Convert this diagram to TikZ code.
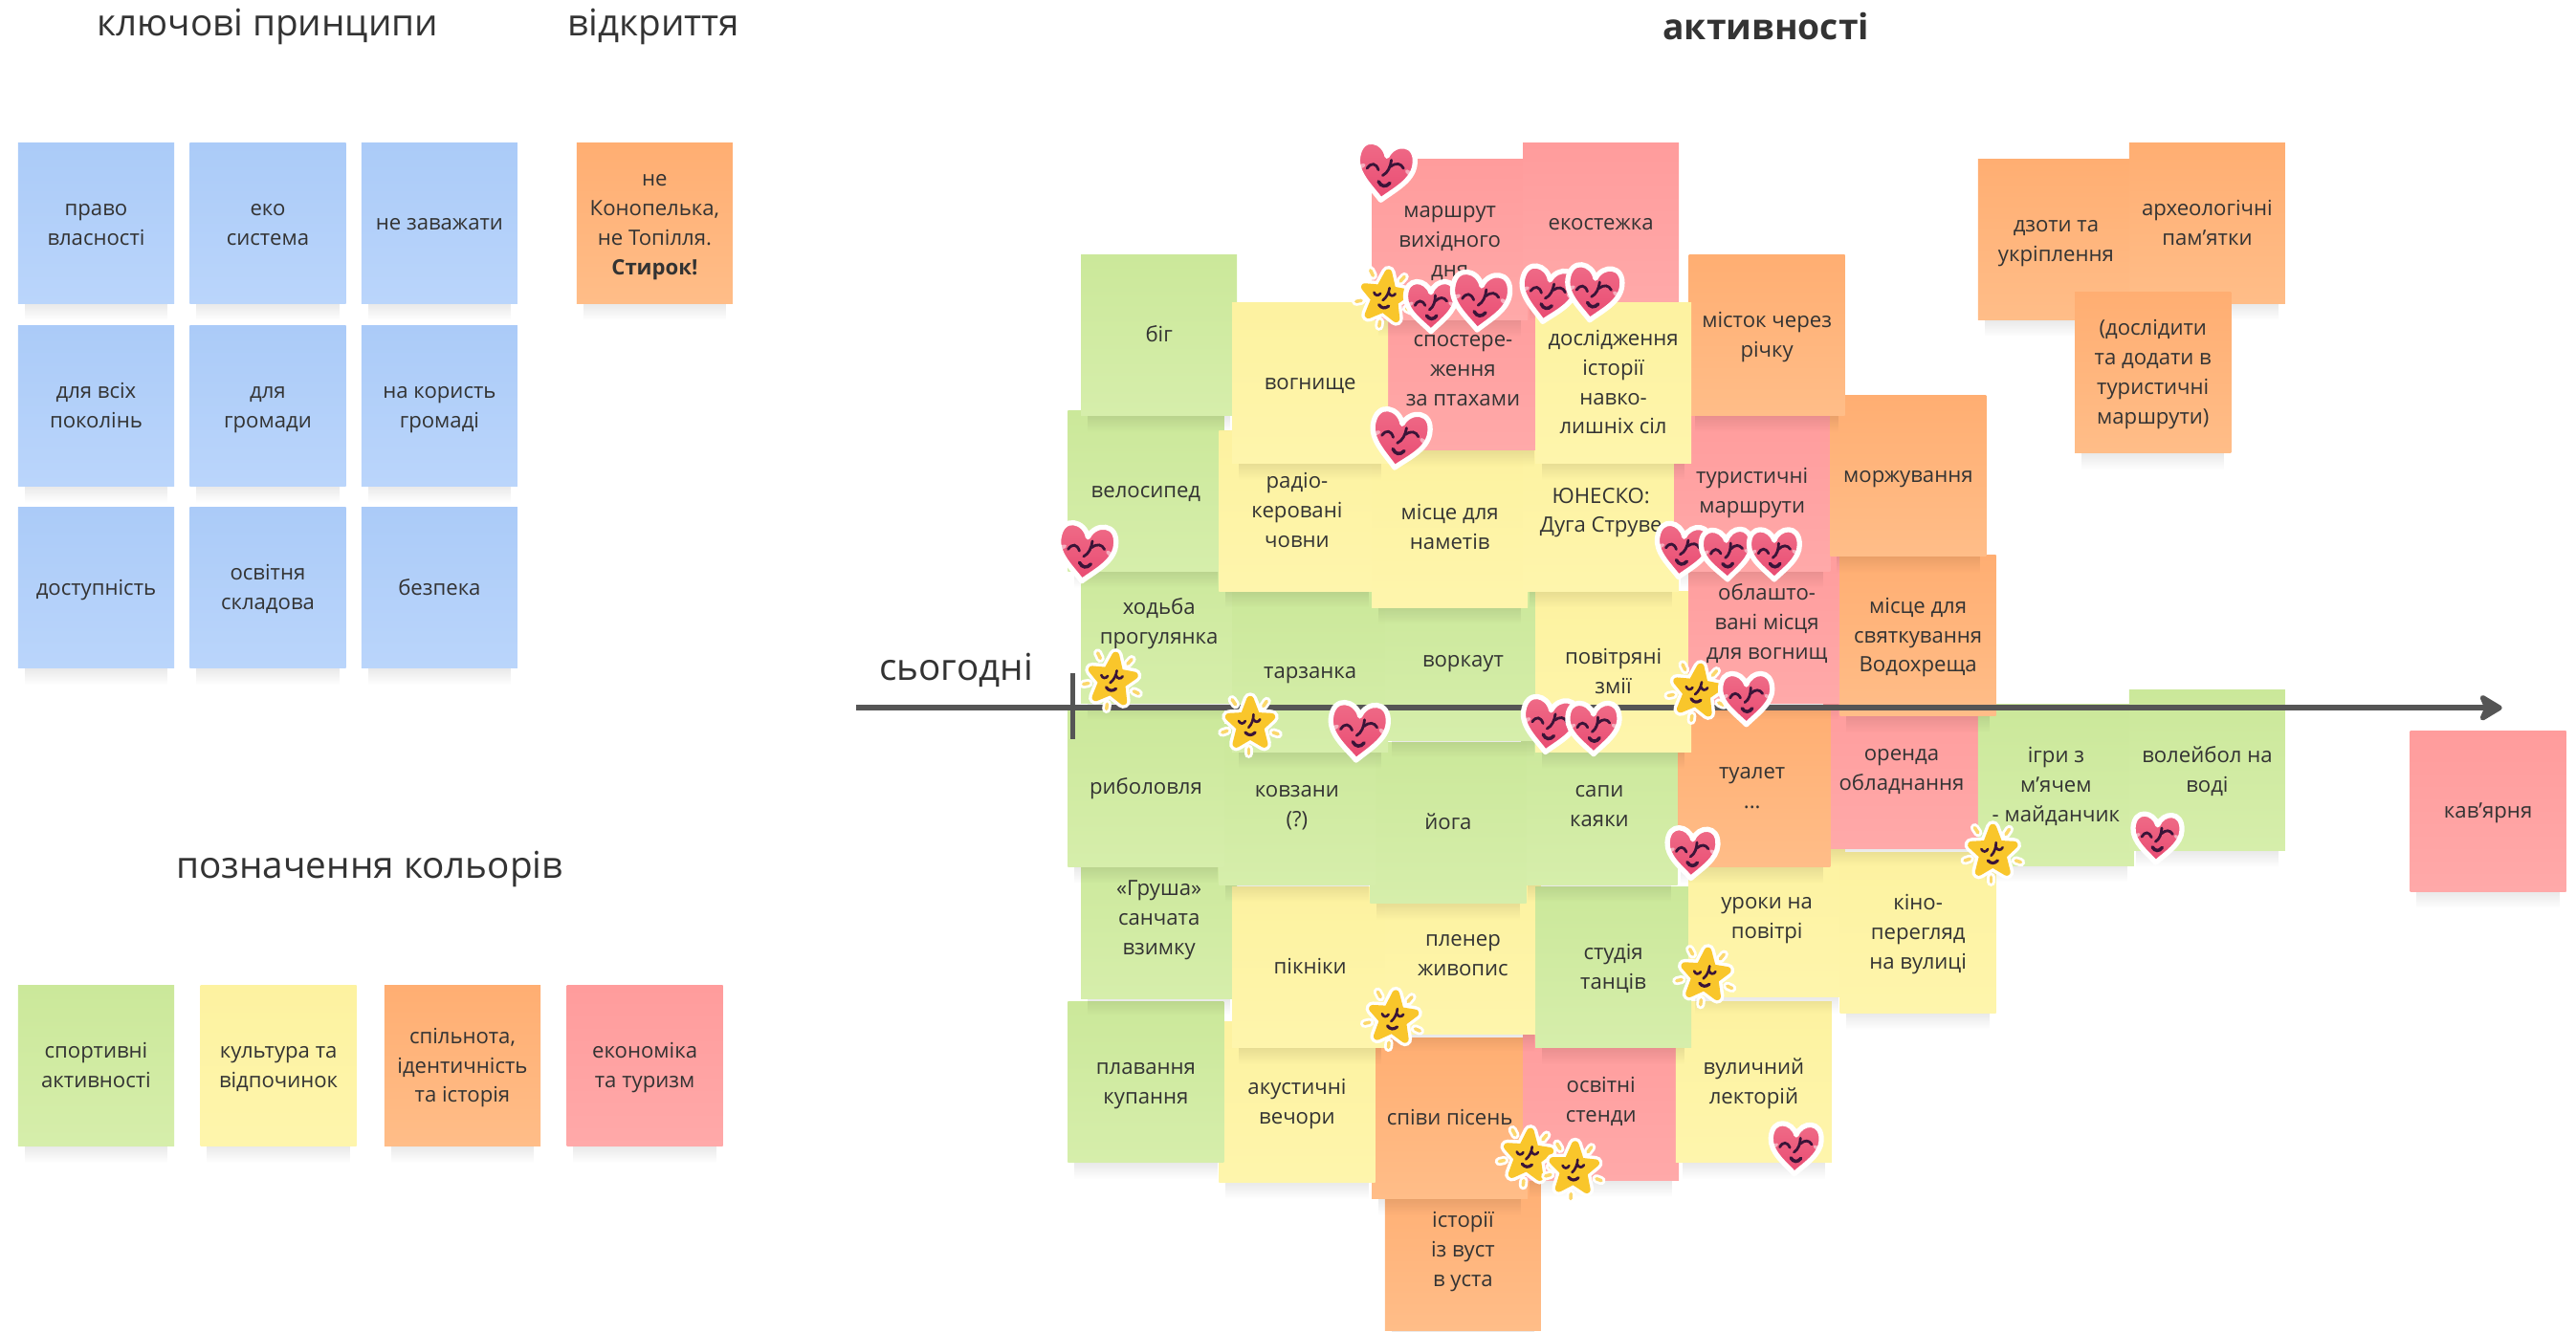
\documentclass[tikz,border=0pt]{standalone}
\usepackage{fontspec}
\setmainfont{Open Sans}
\usetikzlibrary{arrows.meta,fadings}
\definecolor{gr}{HTML}{CBE89A}\definecolor{grL}{HTML}{D6EEAB}
\definecolor{ye}{HTML}{FDF2A0}\definecolor{yeL}{HTML}{FEF5AC}
\definecolor{or}{HTML}{FFAE72}\definecolor{orL}{HTML}{FFBD88}
\definecolor{re}{HTML}{FF9C9C}\definecolor{reL}{HTML}{FFA9A9}
\definecolor{bl}{HTML}{ABCBF8}\definecolor{blL}{HTML}{BAD5FB}
\definecolor{ink}{HTML}{333333}
\definecolor{axis}{HTML}{555555}
\definecolor{heartc}{HTML}{F0708A}
\definecolor{heartd}{HTML}{E94A72}
\definecolor{facec}{HTML}{3A1438}
\definecolor{starc}{HTML}{F9C62B}
\tikzfading[name=noteshadow, top color=transparent!0, bottom color=transparent!100]
\newcommand\sticky[5]{%
  \fill[black,opacity=.13,path fading=noteshadow] (#2+4,#3+93) rectangle (#2+91,#3+108);
  \node[note,top color=#4,bottom color=#4L] (#1) at (#2+47.5,#3+49) {\rule{0pt}{6.6pt}#5\rule[-2.4pt]{0pt}{2.4pt}};}
\tikzset{
  note/.style={minimum width=1.6316cm,minimum height=1.683cm,inner sep=0pt,align=center,text=ink,
    font=\fontsize{6.3}{8.8}\selectfont},
  headline/.style={text=ink,font=\fontsize{11}{13}\selectfont,inner sep=0pt},
  heartpic/.pic={
    \path[draw=white,line width=1.5pt,line join=round,top color=heartc,bottom color=heartd]
      (0,-9) .. controls (3,-18.5) and (17.5,-20.5) .. (17.5,-6) .. controls (17.5,4) and (7,11) .. (0,18)
      .. controls (-7,11) and (-17.5,4) .. (-17.5,-6) .. controls (-17.5,-20.5) and (-3,-18.5) .. (0,-9) -- cycle;
    \fill[white,opacity=.5,rotate=30] (-12,-8) ellipse[x radius=2.4,y radius=1.3];
    \fill[white,opacity=.5,rotate=-30] (12,-8) ellipse[x radius=2.4,y radius=1.3];
    \draw[facec,line width=.8pt,line cap=round]
      (-11,0) .. controls (-9,-4) and (-6,-4) .. (-4,0);
    \draw[facec,line width=.8pt,line cap=round]
      (3,-3) .. controls (6,-6) and (9,-6) .. (11,-3);
    \draw[facec,line width=.8pt,line cap=round]
      (3,-7) .. controls (3,-3) and (2,1) .. (-1,3);
    \draw[facec,line width=1pt,line cap=round]
      (-3,7) .. controls (-1,10) and (2,10) .. (4,7);
  },
  starpic/.pic={
    \foreach \a/\b/\c/\d in {10/-14/8/-11, 17/6/14/5, -1/18/-1/15, -17/5/-14/4, -11/-15/-9/-12}{
      \draw[white,line width=2.6pt,line cap=round] (\a,\b) -- (\c,\d);
      \draw[starc!70!white,line width=1pt,line cap=round] (\a,\b) -- (\c,\d);}
    \path[draw=white,line width=4.2pt,line join=round]
      (0,-15) -- (3.8,-5) -- (13,-4.5) -- (6,2) -- (8.5,12) -- (0,7) -- (-8.5,12) -- (-6,2) -- (-13,-4.5) -- (-3.8,-5) -- cycle;
    \path[draw=starc,fill=starc,line width=2.2pt,line join=round]
      (0,-15) -- (3.8,-5) -- (13,-4.5) -- (6,2) -- (8.5,12) -- (0,7) -- (-8.5,12) -- (-6,2) -- (-13,-4.5) -- (-3.8,-5) -- cycle;
    \draw[facec,line width=.75pt,line cap=round] (-7,-2) .. controls (-6,0) and (-4,0) .. (-3,-2);
    \draw[facec,line width=.75pt,line cap=round] (2,-3) .. controls (3,-1) and (5,-1) .. (6,-3);
    \draw[facec,line width=.75pt,line cap=round] (2,-6) .. controls (2,-3) and (1,0) .. (-1,2);
    \draw[facec,line width=.9pt,line cap=round] (-3,5) .. controls (-1,7) and (1,7) .. (3,5);
  }
}
\begin{document}
\begin{tikzpicture}[x=0.017175cm,y=-0.017175cm]
\useasboundingbox (0,0) rectangle (1568,810.5);
\fill[white] (0,0) rectangle (1568,810.5);
% headings
\node[headline] (h1) at (163,16) {ключові принципи};
\node[headline] (h2) at (398,16) {відкриття};
\node[headline,font=\fontsize{10.6}{13}\selectfont\bfseries] (h3) at (1075,16) {активності};
\node[headline] (h4) at (225,529) {позначення кольорів};
\node[headline,font=\fontsize{11}{13}\selectfont] (h5) at (582,408) {сьогодні};
% principles
\sticky{p1}{11}{87}{bl}{право\\власності}
\sticky{p2}{115.5}{87}{bl}{еко\\система}
\sticky{p3}{220}{87}{bl}{не заважати}
\sticky{p4}{11}{198}{bl}{для всіх\\поколінь}
\sticky{p5}{115.5}{198}{bl}{для\\громади}
\sticky{p6}{220}{198}{bl}{на користь\\громаді}
\sticky{p7}{11}{309}{bl}{доступність}
\sticky{p8}{115.5}{309}{bl}{освітня\\складова}
\sticky{p9}{220}{309}{bl}{безпека}
\sticky{op}{351}{87}{or}{не\\Конопелька,\\не Топілля.\\\textbf{Стирок!}}
% legend
\sticky{l1}{11}{600}{gr}{спортивні\\активності}
\sticky{l2}{122}{600}{ye}{культура та\\відпочинок}
\sticky{l3}{234}{600}{or}{спільнота,\\ідентичність\\та історія}
\sticky{l4}{345}{600}{re}{економіка\\та туризм}
% right group
\sticky{a1}{1204}{97}{or}{дзоти та\\укріплення}
\sticky{a2}{1296}{87}{or}{археологічні\\пам'ятки}
\sticky{a3}{1263}{178}{or}{(дослідити\\та додати в\\туристичні\\маршрути)}
\sticky{a4}{1467}{445}{re}{кав'ярня}
% activity wall, bottom rows first
\sticky{b1}{843}{712}{or}{історії\\із вуст\\в уста}
\sticky{b2}{835}{632}{or}{співи пісень}
\sticky{b3}{927}{621}{re}{освітні\\стенди}
\sticky{b4}{742}{622}{ye}{акустичні\\вечори}
\sticky{b5}{650}{610}{gr}{плавання\\купання}
\sticky{b6}{1020}{610}{ye}{вуличний\\лекторій}
\sticky{c1}{658}{510}{gr}{«Груша»\\санчата\\взимку}
\sticky{c2}{750}{540}{ye}{пікніки}
\sticky{c3}{843}{532}{ye}{пленер\\живопис}
\sticky{c4}{934.5}{540}{gr}{студія\\танців}
\sticky{c5}{1028}{509}{ye}{уроки на\\повітрі}
\sticky{c6}{1120}{519}{ye}{кіно-\\перегляд\\на вулиці}
\sticky{d3}{1110}{419}{re}{оренда\\обладнання}
\sticky{d1}{1204}{429}{gr}{ігри з\\м'ячем\\- майданчик}
\sticky{d2}{1296}{420}{gr}{волейбол на\\воді}
\sticky{d4}{1019}{430}{or}{туалет\\...}
\sticky{d5}{926}{441}{gr}{сапи\\каяки}
\sticky{d6}{834}{452}{gr}{йога}
\sticky{d7}{742}{441}{gr}{ковзани\\(?)}
\sticky{d8}{650}{430}{gr}{риболовля}
\sticky{e1}{658}{330}{gr}{ходьба\\прогулянка}
\sticky{e2}{750}{360}{gr}{тарзанка}
\sticky{e3}{843}{353}{gr}{воркаут}
\sticky{e4}{934.5}{360}{ye}{повітряні\\змії}
\sticky{e5}{1028}{330}{re}{облашто-\\вані місця\\для вогнищ}
\sticky{e6}{1120}{338}{or}{місце для\\святкування\\Водохреща}
\sticky{f1}{650}{250}{gr}{велосипед}
\sticky{f2}{742}{262}{ye}{радіо-\\керовані\\човни}
\sticky{f3}{835}{272}{ye}{місце для\\наметів}
\sticky{f4}{927}{262}{ye}{ЮНЕСКО:\\Дуга Струве}
\sticky{f5}{1019}{250}{re}{туристичні\\маршрути}
\sticky{f6}{1114}{240.5}{or}{моржування}
\sticky{g1}{658}{155}{gr}{біг}
\sticky{g2}{843}{176}{re}{спостере-\\ження\\за птахами}
\sticky{g3}{750}{184}{ye}{вогнище}
\sticky{g4}{1028}{155}{or}{місток через\\річку}
\sticky{h6}{835}{97}{re}{маршрут\\вихідного\\дня}
\sticky{h7}{927}{87}{re}{екостежка}
\sticky{g5}{934.5}{184}{ye}{дослідження\\історії\\навко-\\лишніх сіл}
% timeline
\coordinate (axisstart) at (521,431);
\coordinate (axisend) at (1523,431);
\coordinate (tickup) at (653,410);
\coordinate (tickdown) at (653,450);
\draw[axis,line width=1.7pt,-{Stealth[round,length=8pt,width=9.5pt,inset=2pt]}] (axisstart) -- (axisend);
\draw[axis,line width=1.3pt] (tickup) -- (tickdown);
% stars
\pic[rotate=-8] at (843,181) {starpic};
\pic[rotate=-8] at (677,414) {starpic};
\pic at (761,441) {starpic};
\pic[rotate=-8] at (1033,421) {starpic};
\pic at (1213,519) {starpic};
\pic[rotate=-6] at (1038,594) {starpic};
\pic[rotate=-6] at (848,620) {starpic};
\pic[rotate=-6] at (930,704) {starpic};
\pic[rotate=-3] at (958,712) {starpic};
% hearts
\pic[rotate=-8] at (843,104) {heartpic};
\pic[rotate=0,scale=.88] at (871,186) {heartpic};
\pic[rotate=-6] at (901,183) {heartpic};
\pic[rotate=-10,scale=.95] at (942,179) {heartpic};
\pic[rotate=-8,scale=.95] at (970,178) {heartpic};
\pic[rotate=-10] at (852,267) {heartpic};
\pic[rotate=-8] at (661,336) {heartpic};
\pic[rotate=-8,scale=.92] at (1024,335) {heartpic};
\pic[rotate=2,scale=.88] at (1051,337) {heartpic};
\pic[rotate=0,scale=.88] at (1080,337) {heartpic};
\pic[rotate=-5] at (827,445) {heartpic};
\pic[rotate=-8,scale=.95] at (943,441) {heartpic};
\pic[rotate=0,scale=.9] at (970,443) {heartpic};
\pic[rotate=0,scale=.9] at (1063,425) {heartpic};
\pic[rotate=-3,scale=.88] at (1030,519) {heartpic};
\pic[rotate=-3,scale=.85] at (1313,510) {heartpic};
\pic[rotate=-3,scale=.88] at (1093,699) {heartpic};
\end{tikzpicture}
\end{document}
